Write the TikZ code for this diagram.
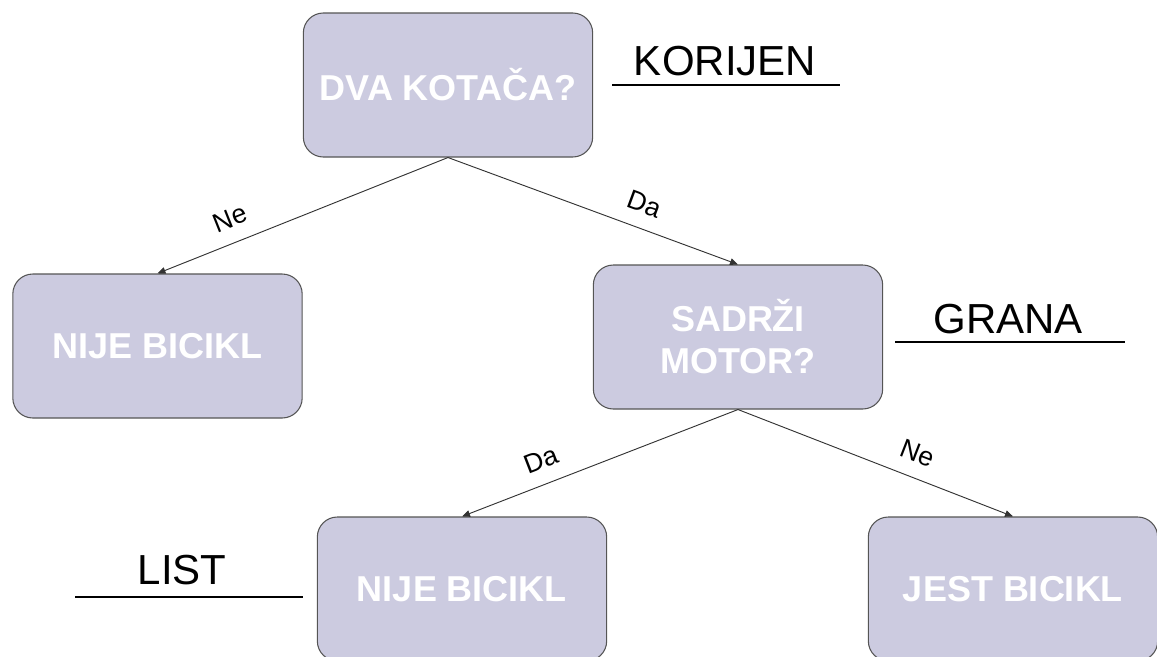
\documentclass[tikz,border=0pt]{standalone}
\usepackage{fontspec}
\setmainfont{Liberation Sans}
\usepackage{xcolor}
\usepackage{tikz}
\usetikzlibrary{shapes,arrows.meta,positioning,calc}

\definecolor{boxfill}{HTML}{CCCBE0}
\definecolor{boxline}{HTML}{555555}
\tikzset{
  decision/.style={draw=boxline, fill=boxfill, line width=0.8pt, rounded corners=15pt,
    minimum width=217pt, minimum height=108pt, align=center, text=white,
    font=\bfseries\fontsize{27}{31.5}\selectfont},
  edge/.style={draw=black!80, line width=0.7pt, -{Triangle[length=6pt,width=5pt]}},
  edgelabel/.style={sloped, above=9pt, inner sep=2pt, font=\fontsize{20}{23}\selectfont},
  tag/.style={anchor=base, inner sep=0pt, font=\fontsize{31.5}{36}\selectfont},
  tagline/.style={draw=black, line width=1.1pt},
}

\begin{document}
\begin{tikzpicture}[x=0.75pt, y=-0.75pt]
    \useasboundingbox (0,0) rectangle (1157,657);
    % tree nodes
    \node[decision] (root)    at (448,85)    {DVA KOTAČA?};
    \node[decision] (nobike)  at (157.5,346) {NIJE BICIKL};
    \node[decision] (motor)   at (738,337)   {SADRŽI\\MOTOR?};
    \node[decision] (nobike2) at (462,589)   {NIJE BICIKL};
    \node[decision] (bike)    at (1013,589)  {JEST BICIKL};
    % branches
    \draw[edge] (root.south)  -- node[edgelabel, pos=0.72] {Ne} (nobike.north);
    \draw[edge] (root.south)  -- node[edgelabel, pos=0.65] {Da} (motor.north);
    \draw[edge] (motor.south) -- node[edgelabel, pos=0.68] {Da} (nobike2.north);
    \draw[edge] (motor.south) -- node[edgelabel, pos=0.62] {Ne} (bike.north);
    % tags
    \node[tag] (korijen) at (725,75)  {KORIJEN};
    \node[tag] (grana)   at (1008,333) {GRANA};
    \node[tag] (list)    at (182,584)  {LIST};
    \coordinate (korijenA) at (612,85);
    \coordinate (korijenB) at (840,85);
    \coordinate (granaA) at (895,342);
    \coordinate (granaB) at (1125,342);
    \coordinate (listA) at (75,597);
    \coordinate (listB) at (303,597);
    \draw[tagline] (korijenA) -- (korijenB);
    \draw[tagline] (granaA) -- (granaB);
    \draw[tagline] (listA) -- (listB);
\end{tikzpicture}
\end{document}
